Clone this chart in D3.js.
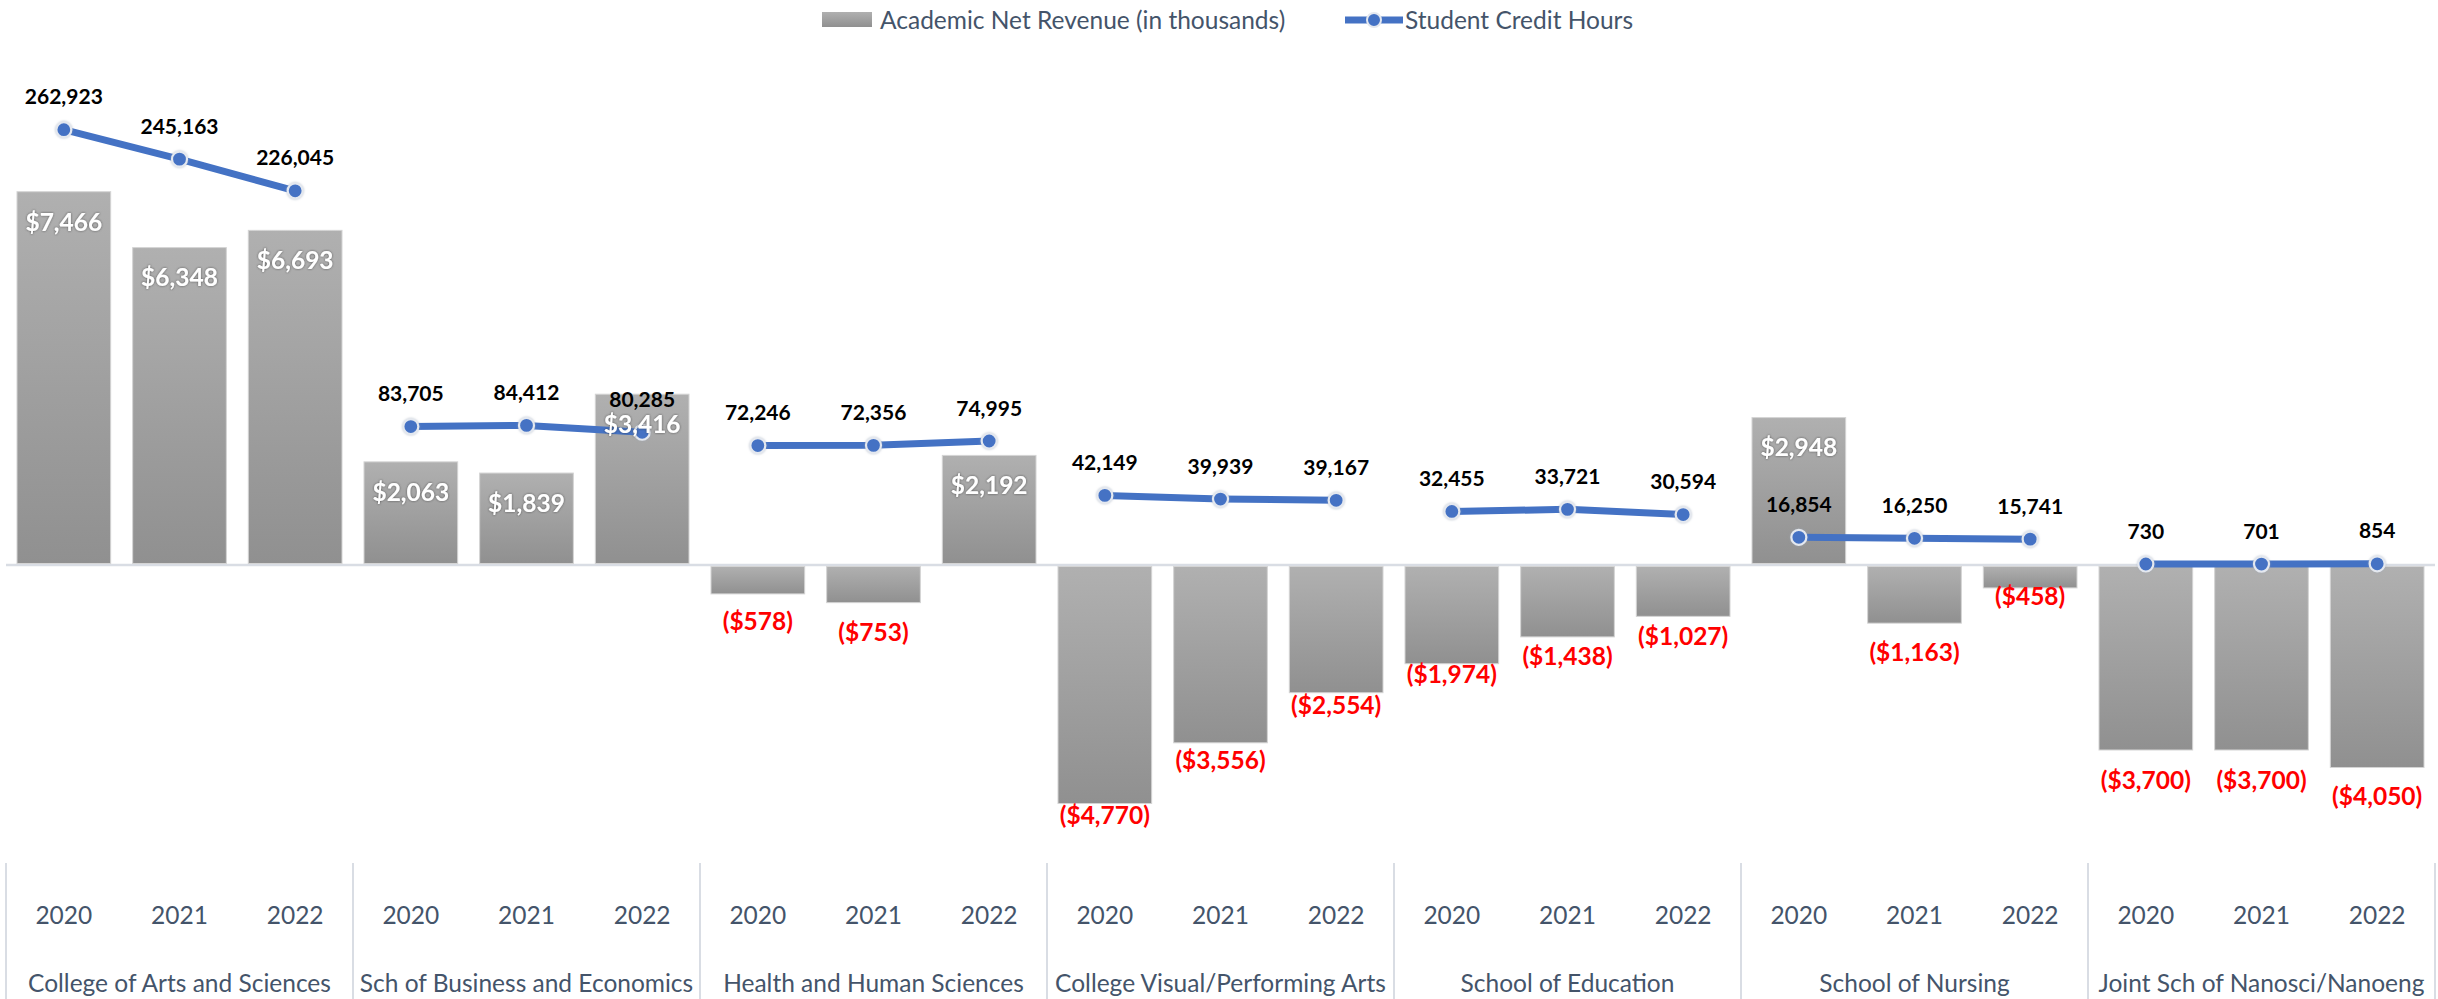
<!DOCTYPE html>
<html>
<head>
<meta charset="utf-8">
<script src="https://cdn.jsdelivr.net/npm/d3@7"></script>
<style>
  body { margin: 0; background: #fff; }
  svg { display: block; font-family: Lato, "Open Sans", sans-serif; }
</style>
</head>
<body>
<svg id="chart" width="2438" height="999"></svg>
<script>
// ---- data -------------------------------------------------------------
const schools = [
  "College of Arts and Sciences",
  "Sch of Business and Economics",
  "Health and Human Sciences",
  "College Visual/Performing Arts",
  "School of Education",
  "School of Nursing",
  "Joint Sch of Nanosci/Nanoeng"
];
const years = ["2020", "2021", "2022"];

// Academic net revenue, in thousands of dollars (school-major order, 2020..2022)
const netRevenue = [
  7466, 6348, 6693,
  2063, 1839, 3416,
  -578, -753, 2192,
  -4770, -3556, -2554,
  -1974, -1438, -1027,
  2948, -1163, -458,
  -3700, -3700, -4050
];

// Student credit hours (same order)
const creditHours = [
  262923, 245163, 226045,
  83705, 84412, 80285,
  72246, 72356, 74995,
  42149, 39939, 39167,
  32455, 33721, 30594,
  16854, 16250, 15741,
  730, 701, 854
];

const seriesNames = ["Academic Net Revenue (in thousands)", "Student Credit Hours"];

// ---- layout -----------------------------------------------------------
const W = 2438, H = 999;
const plot = { left: 6, right: 2435, top: 65, bottom: 865 };
const BLUE = "#4472C4";
const AXIS_TEXT = "#44546A";

// extra distance below a negative bar's end for its label (label centre)
const negLabelDy = { 6: 27, 7: 30, 9: 12, 10: 17, 11: 12, 12: 10, 13: 19, 14: 20, 16: 29, 17: 8, 18: 30, 19: 30, 20: 29 };

const rows = [];
schools.forEach((s, i) => years.forEach((y, j) => {
  const k = i * 3 + j;
  rows.push({ k, school: s, year: y, rev: netRevenue[k], sch: creditHours[k] });
}));

const svg = d3.select("#chart");

const defs = svg.append("defs");
const grad = defs.append("linearGradient").attr("id", "barGrad")
  .attr("x1", 0).attr("y1", 0).attr("x2", 0).attr("y2", 1);
grad.append("stop").attr("offset", "0%").attr("stop-color", "#b0b0b0");
grad.append("stop").attr("offset", "100%").attr("stop-color", "#909090");

const shadow = defs.append("filter").attr("id", "txtShadow")
  .attr("x", "-20%").attr("y", "-30%").attr("width", "140%").attr("height", "160%");
shadow.append("feDropShadow").attr("dx", 0).attr("dy", 0).attr("stdDeviation", 1.2)
  .attr("flood-color", "#333").attr("flood-opacity", 0.75);

const glow = defs.append("filter").attr("id", "markerGlow")
  .attr("x", "-50%").attr("y", "-50%").attr("width", "200%").attr("height", "200%");
glow.append("feDropShadow").attr("dx", 0).attr("dy", 0).attr("stdDeviation", 1.2)
  .attr("flood-color", "#9aa4b5").attr("flood-opacity", 0.6);

// ---- scales -----------------------------------------------------------
const xGroup = d3.scaleBand().domain(schools).range([plot.left, plot.right]).padding(0);
const xYear = d3.scaleBand().domain(years).range([0, xGroup.bandwidth()])
  .paddingInner(0.19).paddingOuter(0.095);
const xCenter = d => xGroup(d.school) + xYear(d.year) + xYear.bandwidth() / 2;

const yRev = d3.scaleLinear().domain([-6000, 10000]).range([plot.bottom, plot.top]);
const ySch = d3.scaleLinear().domain([-181000, 302000]).range([plot.bottom, plot.top]);

// ---- zero line ---------------------------------------------------------
svg.append("line")
  .attr("x1", plot.left).attr("x2", plot.right)
  .attr("y1", yRev(0)).attr("y2", yRev(0))
  .attr("stroke", "#d9dde4").attr("stroke-width", 2.5);

// ---- bars --------------------------------------------------------------
svg.append("g").selectAll("rect").data(rows).join("rect")
  .attr("x", d => xGroup(d.school) + xYear(d.year))
  .attr("width", xYear.bandwidth())
  .attr("y", d => d.rev >= 0 ? yRev(d.rev) : yRev(0) + 1.5)
  .attr("height", d => d.rev >= 0 ? yRev(0) - 1.5 - yRev(d.rev) : yRev(d.rev) - yRev(0) - 1.5)
  .attr("fill", "url(#barGrad)")
  .attr("stroke", "#d4d4d4").attr("stroke-width", 1);

// ---- credit-hour lines (one segment per school) -----------------------
const line = d3.line().x(xCenter).y(d => ySch(d.sch));
const bySchool = d3.groups(rows, d => d.school);
svg.append("g").selectAll("path").data(bySchool).join("path")
  .attr("d", d => line(d[1]))
  .attr("fill", "none").attr("stroke", BLUE).attr("stroke-width", 7)
  .attr("stroke-linejoin", "round");

svg.append("g").selectAll("circle").data(rows).join("circle")
  .attr("cx", xCenter).attr("cy", d => ySch(d.sch)).attr("r", 7.5)
  .attr("fill", BLUE).attr("stroke", "#e4e8ef").attr("stroke-width", 2.2)
  .attr("filter", "url(#markerGlow)");

// ---- revenue labels ----------------------------------------------------
const fmtMoney = v => v < 0 ? "($" + d3.format(",")(-v) + ")" : "$" + d3.format(",")(v);

svg.append("g").selectAll("text").data(rows).join("text")
  .attr("x", xCenter)
  .attr("y", d => d.rev >= 0 ? yRev(d.rev) + 30 : yRev(d.rev) + (negLabelDy[d.k] ?? 14))
  .attr("dy", "0.36em")
  .attr("text-anchor", "middle")
  .attr("font-size", 24.5).attr("font-weight", 700)
  .attr("fill", d => d.rev >= 0 ? "#ffffff" : "#ff0000")
  .attr("filter", d => d.rev >= 0 ? "url(#txtShadow)" : null)
  .text(d => fmtMoney(d.rev));

// ---- credit-hour labels ------------------------------------------------
svg.append("g").selectAll("text").data(rows).join("text")
  .attr("x", xCenter)
  .attr("y", d => ySch(d.sch) - 33)
  .attr("dy", "0.36em")
  .attr("text-anchor", "middle")
  .attr("font-size", 21).attr("font-weight", 700)
  .attr("fill", "#000")
  .text(d => d3.format(",")(d.sch));

// ---- two-level category axis ------------------------------------------
const axisG = svg.append("g");
const bounds = schools.map(s => xGroup(s)).concat([plot.right]);
axisG.selectAll("line").data(bounds).join("line")
  .attr("x1", d => d).attr("x2", d => d)
  .attr("y1", plot.bottom - 2).attr("y2", H)
  .attr("stroke", "#d9dde4").attr("stroke-width", 2);

axisG.selectAll("text.year").data(rows).join("text").attr("class", "year")
  .attr("x", xCenter).attr("y", 915).attr("dy", "0.36em")
  .attr("text-anchor", "middle").attr("font-size", 24.5).attr("fill", AXIS_TEXT)
  .text(d => d.year);

axisG.selectAll("text.school").data(schools).join("text").attr("class", "school")
  .attr("x", d => xGroup(d) + xGroup.bandwidth() / 2).attr("y", 983).attr("dy", "0.36em")
  .attr("text-anchor", "middle").attr("font-size", 24.5).attr("fill", AXIS_TEXT)
  .text(d => d);

// ---- legend ------------------------------------------------------------
const lg = svg.append("g");
lg.append("rect").attr("x", 822).attr("y", 12).attr("width", 50).attr("height", 15)
  .attr("fill", "url(#barGrad)");
lg.append("text").attr("x", 880).attr("y", 20).attr("dy", "0.36em")
  .attr("font-size", 24.5).attr("fill", AXIS_TEXT).text(seriesNames[0]);
lg.append("line").attr("x1", 1345).attr("x2", 1403).attr("y1", 20).attr("y2", 20)
  .attr("stroke", BLUE).attr("stroke-width", 7);
lg.append("circle").attr("cx", 1374).attr("cy", 20).attr("r", 7)
  .attr("fill", BLUE).attr("stroke", "#e4e8ef").attr("stroke-width", 2);
lg.append("text").attr("x", 1405).attr("y", 20).attr("dy", "0.36em")
  .attr("font-size", 24.5).attr("fill", AXIS_TEXT).text(seriesNames[1]);
</script>
</body>
</html>
